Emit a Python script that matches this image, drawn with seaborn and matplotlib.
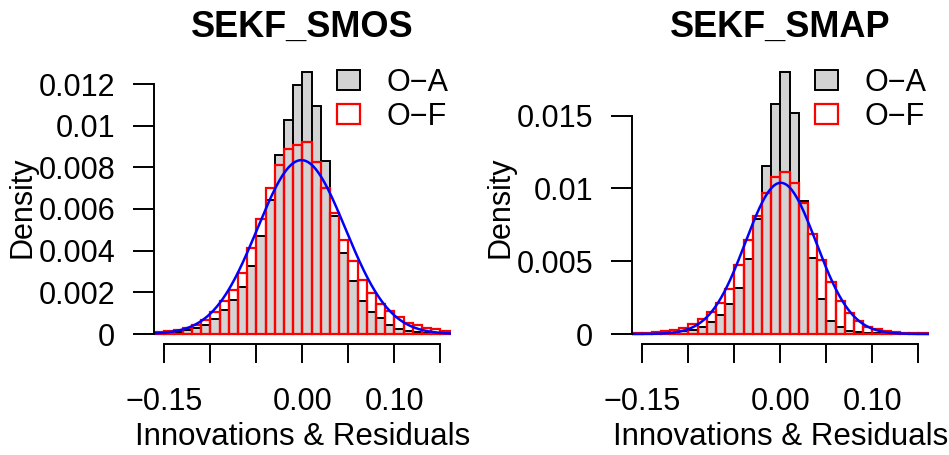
import numpy as np
import pandas as pd
import matplotlib
matplotlib.use("Agg")
import matplotlib.pyplot as plt
from matplotlib.patches import Patch
import seaborn as sns

# Histogram bins shared by both panels
bin_edges = [round(-0.16 + 0.01 * k, 2) for k in range(33)]
bin_centers = [round(e + 0.005, 3) for e in bin_edges[:-1]]

# SEKF_SMOS: per-bin densities
smos_oa = [0.00003, 0.00006, 0.00011, 0.00018, 0.00029, 0.00045, 0.00070, 0.00113,
           0.00164, 0.00228, 0.00325, 0.00470, 0.00643, 0.00859, 0.01027, 0.01195,
           0.01259, 0.01096, 0.00830, 0.00568, 0.00389, 0.00256, 0.00157, 0.00106,
           0.00075, 0.00042, 0.00026, 0.00013, 0.00008, 0.00006, 0.00005, 0.00003]
smos_of = [0.00010, 0.00014, 0.00019, 0.00029, 0.00043, 0.00069, 0.00106, 0.00158,
           0.00211, 0.00293, 0.00411, 0.00553, 0.00702, 0.00811, 0.00886, 0.00906,
           0.00922, 0.00824, 0.00702, 0.00581, 0.00451, 0.00350, 0.00261, 0.00195,
           0.00144, 0.00112, 0.00083, 0.00053, 0.00045, 0.00030, 0.00024, 0.00016]
smos_fit = {"mean": -0.001, "sd": 0.0478, "area": 0.001}

# SEKF_SMAP: per-bin densities
smap_oa = [0.00001, 0.00002, 0.00003, 0.00007, 0.00010, 0.00018, 0.00027, 0.00046,
           0.00080, 0.00133, 0.00204, 0.00316, 0.00514, 0.00788, 0.01154, 0.01580,
           0.01802, 0.01516, 0.00916, 0.00524, 0.00238, 0.00092, 0.00046, 0.00023,
           0.00012, 0.00008, 0.00005, 0.00003, 0.00002, 0.00001, 0.00001, 0.00001]
smap_of = [0.00006, 0.00008, 0.00013, 0.00020, 0.00027, 0.00041, 0.00068, 0.00105,
           0.00149, 0.00215, 0.00311, 0.00477, 0.00643, 0.00810, 0.00966, 0.01081,
           0.01113, 0.01040, 0.00898, 0.00689, 0.00508, 0.00355, 0.00227, 0.00147,
           0.00089, 0.00050, 0.00032, 0.00020, 0.00014, 0.00009, 0.00006, 0.00004]
smap_fit = {"mean": 0.0005, "sd": 0.0384, "area": 0.001}

titles = ["SEKF_SMOS", "SEKF_SMAP"]
legend_labels = ["O\u2212A", "O\u2212F"]
x_ticks = [-0.15, -0.10, -0.05, 0.00, 0.05, 0.10, 0.15]
x_tick_labels = ["\u22120.15", "", "", "0.00", "", "0.10", ""]
y_ticks = [[0, 0.002, 0.004, 0.006, 0.008, 0.010, 0.012], [0, 0.005, 0.010, 0.015]]
y_tick_labels = [["0", "0.002", "0.004", "0.006", "0.008", "0.01", "0.012"],
                 ["0", "0.005", "0.01", "0.015"]]

sns.set_style("ticks")
plt.rcParams["font.family"] = ["Liberation Sans", "DejaVu Sans"]
plt.rcParams["text.color"] = "black"

W, H = 949, 455
fig = plt.figure(figsize=(W / 100, H / 100), dpi=100)

panels = [
    dict(oa=smos_oa, of=smos_of, fit=smos_fit, left=154, ylim=(-0.00048, 0.013152)),
    dict(oa=smap_oa, of=smap_of, fit=smap_fit, left=632, ylim=(-0.000687, 0.018827)),
]

ax_w, ax_top, ax_bot = 297, 60, 344
grey = "#D3D3D3"

for i, p in enumerate(panels):
    ax = fig.add_axes([p["left"] / W, 1 - ax_bot / H, ax_w / W, (ax_bot - ax_top) / H])

    df = pd.DataFrame({"x": bin_centers, "oa": p["oa"], "of": p["of"]})
    sns.histplot(data=df, x="x", weights="oa", bins=bin_edges, stat="count",
                 color=grey, edgecolor="black", linewidth=1.4, alpha=1, ax=ax)
    sns.histplot(data=df, x="x", weights="of", bins=bin_edges, stat="count",
                 fill=False, color="red", linewidth=1.6, ax=ax)

    # fitted normal curve
    xs = np.linspace(-0.1612, 0.1616, 400)
    f = p["fit"]
    ys = f["area"] / (f["sd"] * np.sqrt(2 * np.pi)) * np.exp(-0.5 * ((xs - f["mean"]) / f["sd"]) ** 2)
    sns.lineplot(x=xs, y=ys, color="blue", linewidth=1.8, ax=ax)

    ax.set_xlim(-0.1612, 0.1616)
    ax.set_ylim(*p["ylim"])
    ax.set_xlabel("")
    ax.set_ylabel("")

    for s in ["top", "right"]:
        ax.spines[s].set_visible(False)
    ax.spines["left"].set_bounds(y_ticks[i][0], y_ticks[i][-1])
    ax.spines["bottom"].set_bounds(-0.15, 0.15)
    for s in ["left", "bottom"]:
        ax.spines[s].set_linewidth(1.4)
        ax.spines[s].set_color("black")

    ax.set_xticks(x_ticks)
    ax.set_xticklabels(x_tick_labels)
    ax.set_yticks(y_ticks[i])
    ax.set_yticklabels(y_tick_labels[i])
    ax.tick_params(axis="both", direction="out", width=1.4,
                   labelsize=22, colors="black")
    ax.tick_params(axis="x", length=14, pad=17)
    ax.tick_params(axis="y", length=15, pad=13)

    cx = (p["left"] + ax_w / 2) / W
    fig.text(cx, 1 - 27 / H, titles[i], ha="center", va="center",
             fontsize=26, fontweight="bold", color="black")
    fig.text(cx, 1 - 437 / H, "Innovations & Residuals", ha="center", va="center",
             fontsize=22.5, color="black")
    fig.text((p["left"] - 132) / W, 1 - 207 / H, "Density", ha="center", va="center",
             rotation=90, fontsize=22, color="black")

    handles = [Patch(facecolor=grey, edgecolor="black", linewidth=1.4),
               Patch(facecolor="white", edgecolor="red", linewidth=1.6)]
    leg = ax.legend(handles, legend_labels, loc="upper left",
                    bbox_to_anchor=((p["left"] + 183) / W, 1 - 68 / H),
                    bbox_transform=fig.transFigure, frameon=False, fontsize=22,
                    handlelength=0.75, handleheight=0.62, handletextpad=0.88,
                    labelspacing=0.12, borderpad=0, borderaxespad=0)
    for t in leg.get_texts():
        t.set_color("black")

fig.savefig("out.png", dpi=100)
